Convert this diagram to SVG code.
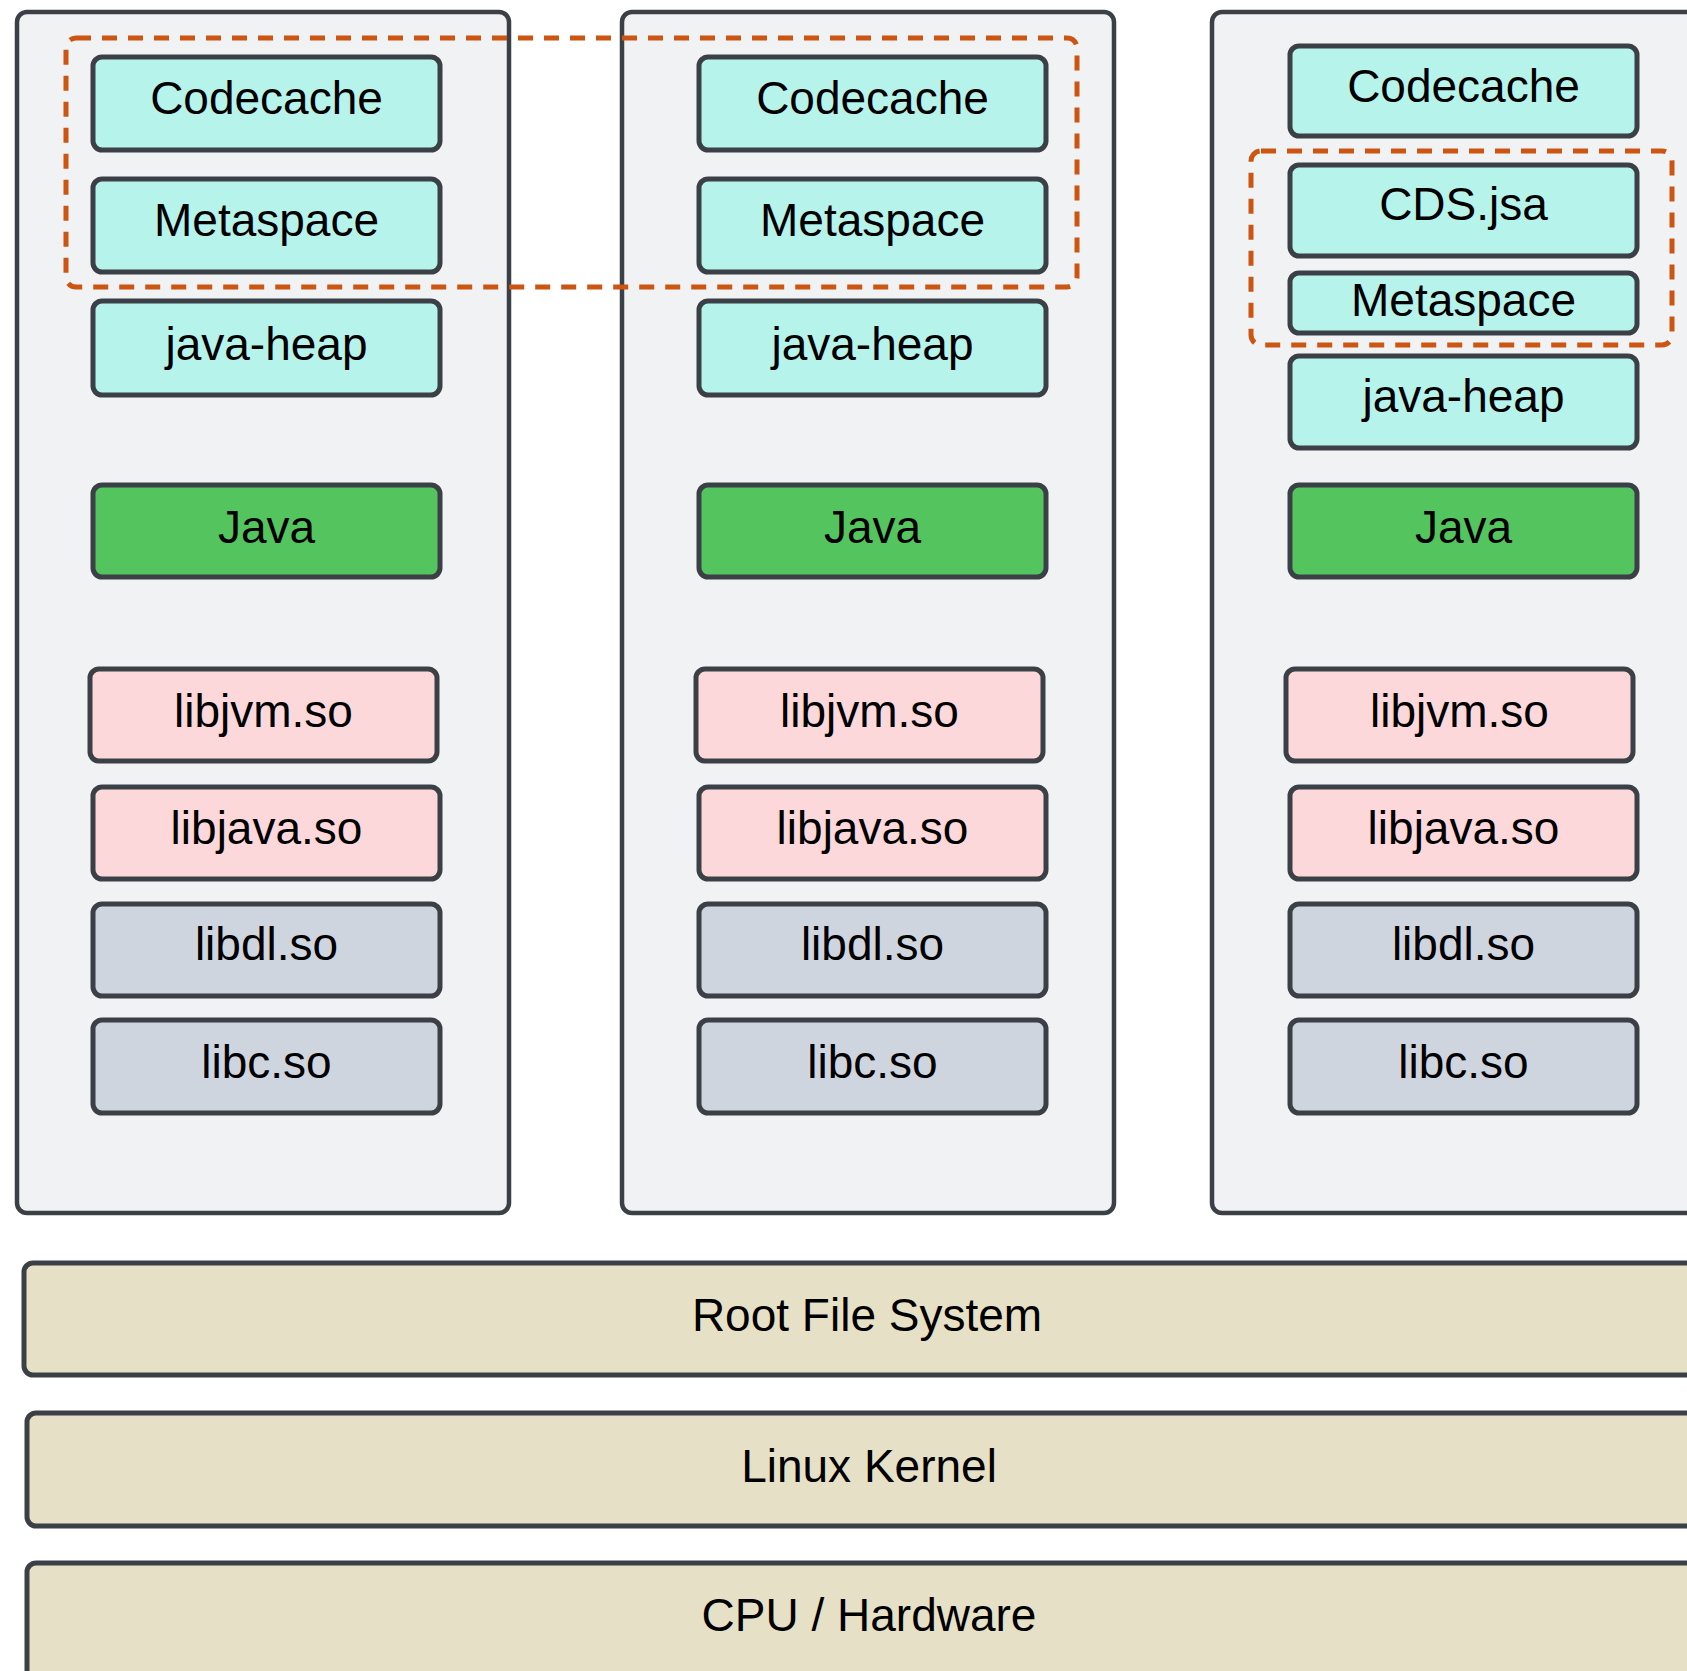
<svg xmlns="http://www.w3.org/2000/svg" width="1687" height="1671" viewBox="0 0 1687 1671">
<style>
  .ct{fill:#f1f2f4;stroke:#3b4047;stroke-width:4.5}
  .bx{stroke:#3b4047;stroke-width:5}
  .cy{fill:#b6f3eb}
  .gr{fill:#54c45e}
  .pk{fill:#fdd8da}
  .gy{fill:#cfd5de}
  .bg{fill:#e6e0c6;stroke:#3b4047;stroke-width:5}
  .ds{fill:none;stroke:#cc5512;stroke-width:5;stroke-dasharray:15 11}
  text{font-family:"Liberation Sans",Arial,sans-serif;font-size:46px;fill:#000;text-anchor:middle}
</style>
<rect width="1687" height="1671" fill="#ffffff"/>

<g id="container1"><rect class="ct" x="17" y="12" width="492" height="1201" rx="10"/></g>
<g id="container2"><rect class="ct" x="622" y="12" width="492" height="1201" rx="10"/></g>
<g id="container3"><rect class="ct" x="1212" y="12" width="492" height="1201" rx="10"/></g>

<!-- column 1 -->
<g id="c1-codecache"><rect class="bx cy" x="93" y="57" width="347" height="93" rx="9"/><text x="266.5" y="114">Codecache</text></g>
<g id="c1-metaspace"><rect class="bx cy" x="93" y="179" width="347" height="93" rx="9"/><text x="266.5" y="236">Metaspace</text></g>
<g id="c1-javaheap"><rect class="bx cy" x="93" y="301" width="347" height="94" rx="9"/><text x="266.5" y="360">java-heap</text></g>
<g id="c1-java"><rect class="bx gr" x="93" y="485" width="347" height="92" rx="9"/><text x="266.5" y="543">Java</text></g>
<g id="c1-libjvm"><rect class="bx pk" x="90" y="669" width="347" height="92" rx="9"/><text x="263.5" y="727">libjvm.so</text></g>
<g id="c1-libjava"><rect class="bx pk" x="93" y="787" width="347" height="92" rx="9"/><text x="266.5" y="844">libjava.so</text></g>
<g id="c1-libdl"><rect class="bx gy" x="93" y="904" width="347" height="92" rx="9"/><text x="266.5" y="960">libdl.so</text></g>
<g id="c1-libc"><rect class="bx gy" x="93" y="1020" width="347" height="93" rx="9"/><text x="266.5" y="1078">libc.so</text></g>

<!-- column 2 -->
<g id="c2-codecache"><rect class="bx cy" x="699" y="57" width="347" height="93" rx="9"/><text x="872.5" y="114">Codecache</text></g>
<g id="c2-metaspace"><rect class="bx cy" x="699" y="179" width="347" height="93" rx="9"/><text x="872.5" y="236">Metaspace</text></g>
<g id="c2-javaheap"><rect class="bx cy" x="699" y="301" width="347" height="94" rx="9"/><text x="872.5" y="360">java-heap</text></g>
<g id="c2-java"><rect class="bx gr" x="699" y="485" width="347" height="92" rx="9"/><text x="872.5" y="543">Java</text></g>
<g id="c2-libjvm"><rect class="bx pk" x="696" y="669" width="347" height="92" rx="9"/><text x="869.5" y="727">libjvm.so</text></g>
<g id="c2-libjava"><rect class="bx pk" x="699" y="787" width="347" height="92" rx="9"/><text x="872.5" y="844">libjava.so</text></g>
<g id="c2-libdl"><rect class="bx gy" x="699" y="904" width="347" height="92" rx="9"/><text x="872.5" y="960">libdl.so</text></g>
<g id="c2-libc"><rect class="bx gy" x="699" y="1020" width="347" height="93" rx="9"/><text x="872.5" y="1078">libc.so</text></g>

<!-- column 3 -->
<g id="c3-codecache"><rect class="bx cy" x="1290" y="46" width="347" height="90" rx="9"/><text x="1463.5" y="102">Codecache</text></g>
<g id="c3-cds"><rect class="bx cy" x="1290" y="165" width="347" height="91" rx="9"/><text x="1463.5" y="220">CDS.jsa</text></g>
<g id="c3-metaspace"><rect class="bx cy" x="1290" y="273" width="347" height="60" rx="9"/><text x="1463.5" y="316">Metaspace</text></g>
<g id="c3-javaheap"><rect class="bx cy" x="1290" y="356" width="347" height="92" rx="9"/><text x="1463.5" y="412">java-heap</text></g>
<g id="c3-java"><rect class="bx gr" x="1290" y="485" width="347" height="92" rx="9"/><text x="1463.5" y="543">Java</text></g>
<g id="c3-libjvm"><rect class="bx pk" x="1286" y="669" width="347" height="92" rx="9"/><text x="1459.5" y="727">libjvm.so</text></g>
<g id="c3-libjava"><rect class="bx pk" x="1290" y="787" width="347" height="92" rx="9"/><text x="1463.5" y="844">libjava.so</text></g>
<g id="c3-libdl"><rect class="bx gy" x="1290" y="904" width="347" height="92" rx="9"/><text x="1463.5" y="960">libdl.so</text></g>
<g id="c3-libc"><rect class="bx gy" x="1290" y="1020" width="347" height="93" rx="9"/><text x="1463.5" y="1078">libc.so</text></g>

<!-- dashed groupings -->
<g id="shared-region-1"><rect class="ds" x="66" y="38" width="1011" height="249" rx="10"/></g>
<g id="shared-region-2"><rect class="ds" x="1251" y="151" width="421" height="194" rx="10"/></g>

<!-- bottom layers -->
<g id="rootfs"><rect class="bg" x="24" y="1263" width="1690" height="112" rx="9"/><text x="867" y="1331">Root File System</text></g>
<g id="kernel"><rect class="bg" x="27" y="1413" width="1690" height="113" rx="9"/><text x="869" y="1482">Linux Kernel</text></g>
<g id="cpu"><rect class="bg" x="27" y="1563" width="1690" height="140" rx="9"/><text x="869" y="1631">CPU / Hardware</text></g>

<g id="connectors"></g>
</svg>
